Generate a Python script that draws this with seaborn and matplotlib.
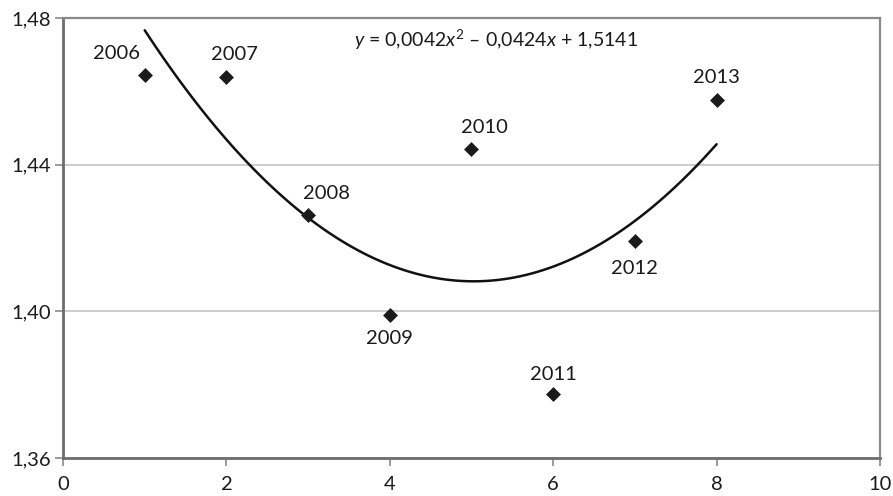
import matplotlib
matplotlib.use("Agg")
import matplotlib.pyplot as plt
import seaborn as sns
import numpy as np
import pandas as pd
from matplotlib.ticker import FuncFormatter, MultipleLocator

x_vals = [1, 2, 3, 4, 5, 6, 7, 8]
y_vals = [1.4645, 1.4639, 1.4263, 1.3990, 1.4443, 1.3775, 1.4192, 1.4576]
years = ["2006", "2007", "2008", "2009", "2010", "2011", "2012", "2013"]
label_offsets = [(-28, 21), (8, 23), (18, 21), (0, -23), (13, 21), (0, 19), (0, -28), (0, 23)]
equation = r"$y$ = 0,0042$x^2$ – 0,0424$x$ + 1,5141"

df = pd.DataFrame({"x": x_vals, "y": y_vals, "year": years})

sns.set_theme(style="white")
plt.rcParams["font.family"] = ["Lato", "DejaVu Sans"]
plt.rcParams["mathtext.fontset"] = "custom"
plt.rcParams["mathtext.it"] = "Lato:italic"
plt.rcParams["mathtext.rm"] = "Lato"

fig = plt.figure(figsize=(8.93, 4.96), dpi=100)
ax = fig.add_axes([63 / 893, 1 - 458 / 496, (880 - 63) / 893, (458 - 18) / 496])

sns.regplot(data=df, x="x", y="y", order=2, ci=None, scatter=False,
            line_kws={"color": "#111111", "lw": 1.8}, ax=ax)
sns.scatterplot(data=df, x="x", y="y", marker="D", s=50, color="#1a1a1a",
                edgecolor="#1a1a1a", linewidth=0.5, ax=ax, zorder=5)

for xi, yi, yr, (dx, dy) in zip(x_vals, y_vals, years, label_offsets):
    ax.annotate(yr, (xi, yi), xytext=(dx, dy), textcoords="offset pixels",
                ha="center", va="center", fontsize=14.5, color="#1a1a1a")

ax.text(5.3, 1.4739, equation, ha="center", va="center", fontsize=14, color="#1a1a1a")

ax.set_xlim(0, 10)
ax.set_ylim(1.36, 1.48)
ax.xaxis.set_major_locator(MultipleLocator(2))
ax.yaxis.set_major_locator(MultipleLocator(0.04))
ax.yaxis.set_major_formatter(FuncFormatter(lambda v, p: f"{v:.2f}".replace(".", ",")))
ax.xaxis.set_major_formatter(FuncFormatter(lambda v, p: f"{int(round(v))}"))
ax.set_xlabel("")
ax.set_ylabel("")
ax.yaxis.grid(True, color="#c4c4c4", lw=1.2)
ax.set_axisbelow(True)

for side in ["top", "right"]:
    ax.spines[side].set_color("#8a8a8a")
    ax.spines[side].set_linewidth(1.6)
for side in ["left", "bottom"]:
    ax.spines[side].set_color("#6e6e6e")
    ax.spines[side].set_linewidth(2.0)

ax.tick_params(axis="both", direction="out", length=6, width=1.2, color="#8a8a8a",
               labelsize=14.5, labelcolor="#1a1a1a", bottom=True, left=True)
ax.tick_params(axis="x", pad=7)
ax.tick_params(axis="y", pad=3)

fig.savefig("out.png", dpi=100)
